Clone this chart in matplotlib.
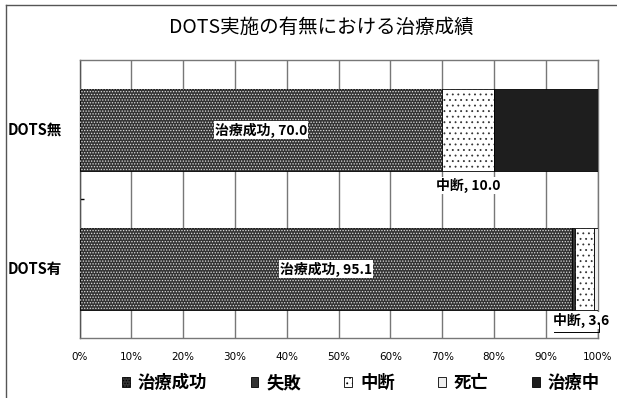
"""
DOTS実施の有無における治療成績 (100% stacked horizontal bars).
"""
import matplotlib
matplotlib.use("Agg")
import matplotlib.pyplot as plt
import matplotlib.transforms as mtransforms
from matplotlib.patches import Patch
from matplotlib.lines import Line2D

plt.rcParams["font.family"] = ["Noto Sans CJK JP", "DejaVu Sans"]
plt.rcParams["hatch.linewidth"] = 0.6

categories = ["DOTS有", "DOTS無"]          # bottom -> top
series = ["治療成功", "失敗", "中断", "死亡", "治療中"]
success = [95.1, 70.0]
failure = [0.5, 0.0]
dropout = [3.6, 10.0]
death = [0.8, 0.0]
ongoing = [0.0, 20.0]
xtick_labels = ["0%", "10%", "20%", "30%", "40%", "50%", "60%", "70%", "80%", "90%", "100%"]

values = [success, failure, dropout, death, ongoing]
# (facecolor, hatch, hatch colour)
styles = [
    ("#333333", "......", "#dddddd"),
    ("#333333", None, None),
    ("white", "...", "#333333"),
    ("#eeeeee", None, None),
    ("#1e1e1e", None, None),
]


def main():
    fig = plt.figure(figsize=(6.17, 3.98), dpi=100)
    ax = fig.add_axes([0.1289, 0.1495, 0.8398, 0.6985])

    ypos = list(range(len(categories)))
    left = [0.0] * len(categories)
    bar_h = 0.595
    for vals, (fc, hatch, hc) in zip(values, styles):
        ax.barh(ypos, vals, left=left, height=bar_h, color=fc,
                edgecolor="black", linewidth=0.6, zorder=3)
        if hatch:
            ax.barh(ypos, vals, left=left, height=bar_h, color="none",
                    edgecolor=hc, hatch=hatch, linewidth=0, zorder=3)
        left = [l + v for l, v in zip(left, vals)]

    # data labels
    lab = dict(fontsize=10, fontweight="bold", ha="center", va="center", zorder=5)
    for i, v in enumerate(success):
        ax.text(v / 2, i, f"治療成功, {v:.1f}",
                bbox=dict(facecolor="white", edgecolor="none", pad=0.8), **lab)
    # 中断 labels below the bars
    ax.text(success[1] + failure[1] + dropout[1] / 2, 1 - 0.4, f"中断, {dropout[1]:.1f}",
            bbox=dict(facecolor="white", edgecolor="none", pad=0.8), **lab)
    ax.text(success[0] + failure[0] - 4.3, 0 - 0.37, f"中断, {dropout[0]:.1f}", ha="left",
            va="center", fontsize=10, fontweight="bold", zorder=5,
            bbox=dict(facecolor="white", edgecolor="none", pad=0.8))
    ax.plot([91.5, 100.2, 100.2], [-0.45, -0.45, -0.39], color="black", lw=0.7,
            zorder=6, clip_on=False)

    ax.set_xlim(0, 100)
    ax.set_ylim(-0.5, 1.5)
    ax.set_xticks(range(0, 101, 10))
    ax.set_xticklabels(xtick_labels, fontsize=7.5, family=["DejaVu Sans"])
    ax.tick_params(axis="x", length=0, pad=10)

    # category labels, left aligned near the chart frame
    ax.set_yticks([])
    trans = mtransforms.blended_transform_factory(ax.transAxes, ax.transData)
    for i, c in enumerate(categories):
        ax.text(-0.138, i, c, transform=trans, ha="left", va="center",
                fontsize=10.5, fontweight="bold")
    ax.set_yticks([0.5], minor=True)
    ax.set_yticklabels([""], minor=True)
    ax.tick_params(axis="y", which="minor", length=3, direction="in", width=1.0)

    ax.grid(axis="x", color="#777777", linewidth=1.0, zorder=0)
    for s in ax.spines.values():
        s.set_color("#777777")
        s.set_linewidth(1.0)
    ax.spines["left"].set_color("#555555")

    fig.suptitle("DOTS実施の有無における治療成績", x=0.52, y=0.958, fontsize=14)

    handles = [Patch(facecolor=fc, edgecolor="black", linewidth=0.6, hatch=hatch)
               for fc, hatch, hc in styles]
    fig.legend(handles, series, loc="center", bbox_to_anchor=(0.585, 0.037), ncol=5,
               frameon=False, prop=dict(size=12.5, weight="bold"),
               handlelength=0.45, handleheight=0.45, handletextpad=0.45,
               columnspacing=2.5)

    # outer chart frame (only top and left edges fall inside the image)
    fig.add_artist(Line2D([6 / 617, 1.0], [1 - 5 / 398, 1 - 5 / 398], color="#555555", lw=1.0))
    fig.add_artist(Line2D([6 / 617, 6 / 617], [0, 1 - 5 / 398], color="#555555", lw=1.0))

    fig.savefig("out.png", dpi=100)


if __name__ == "__main__":
    main()
